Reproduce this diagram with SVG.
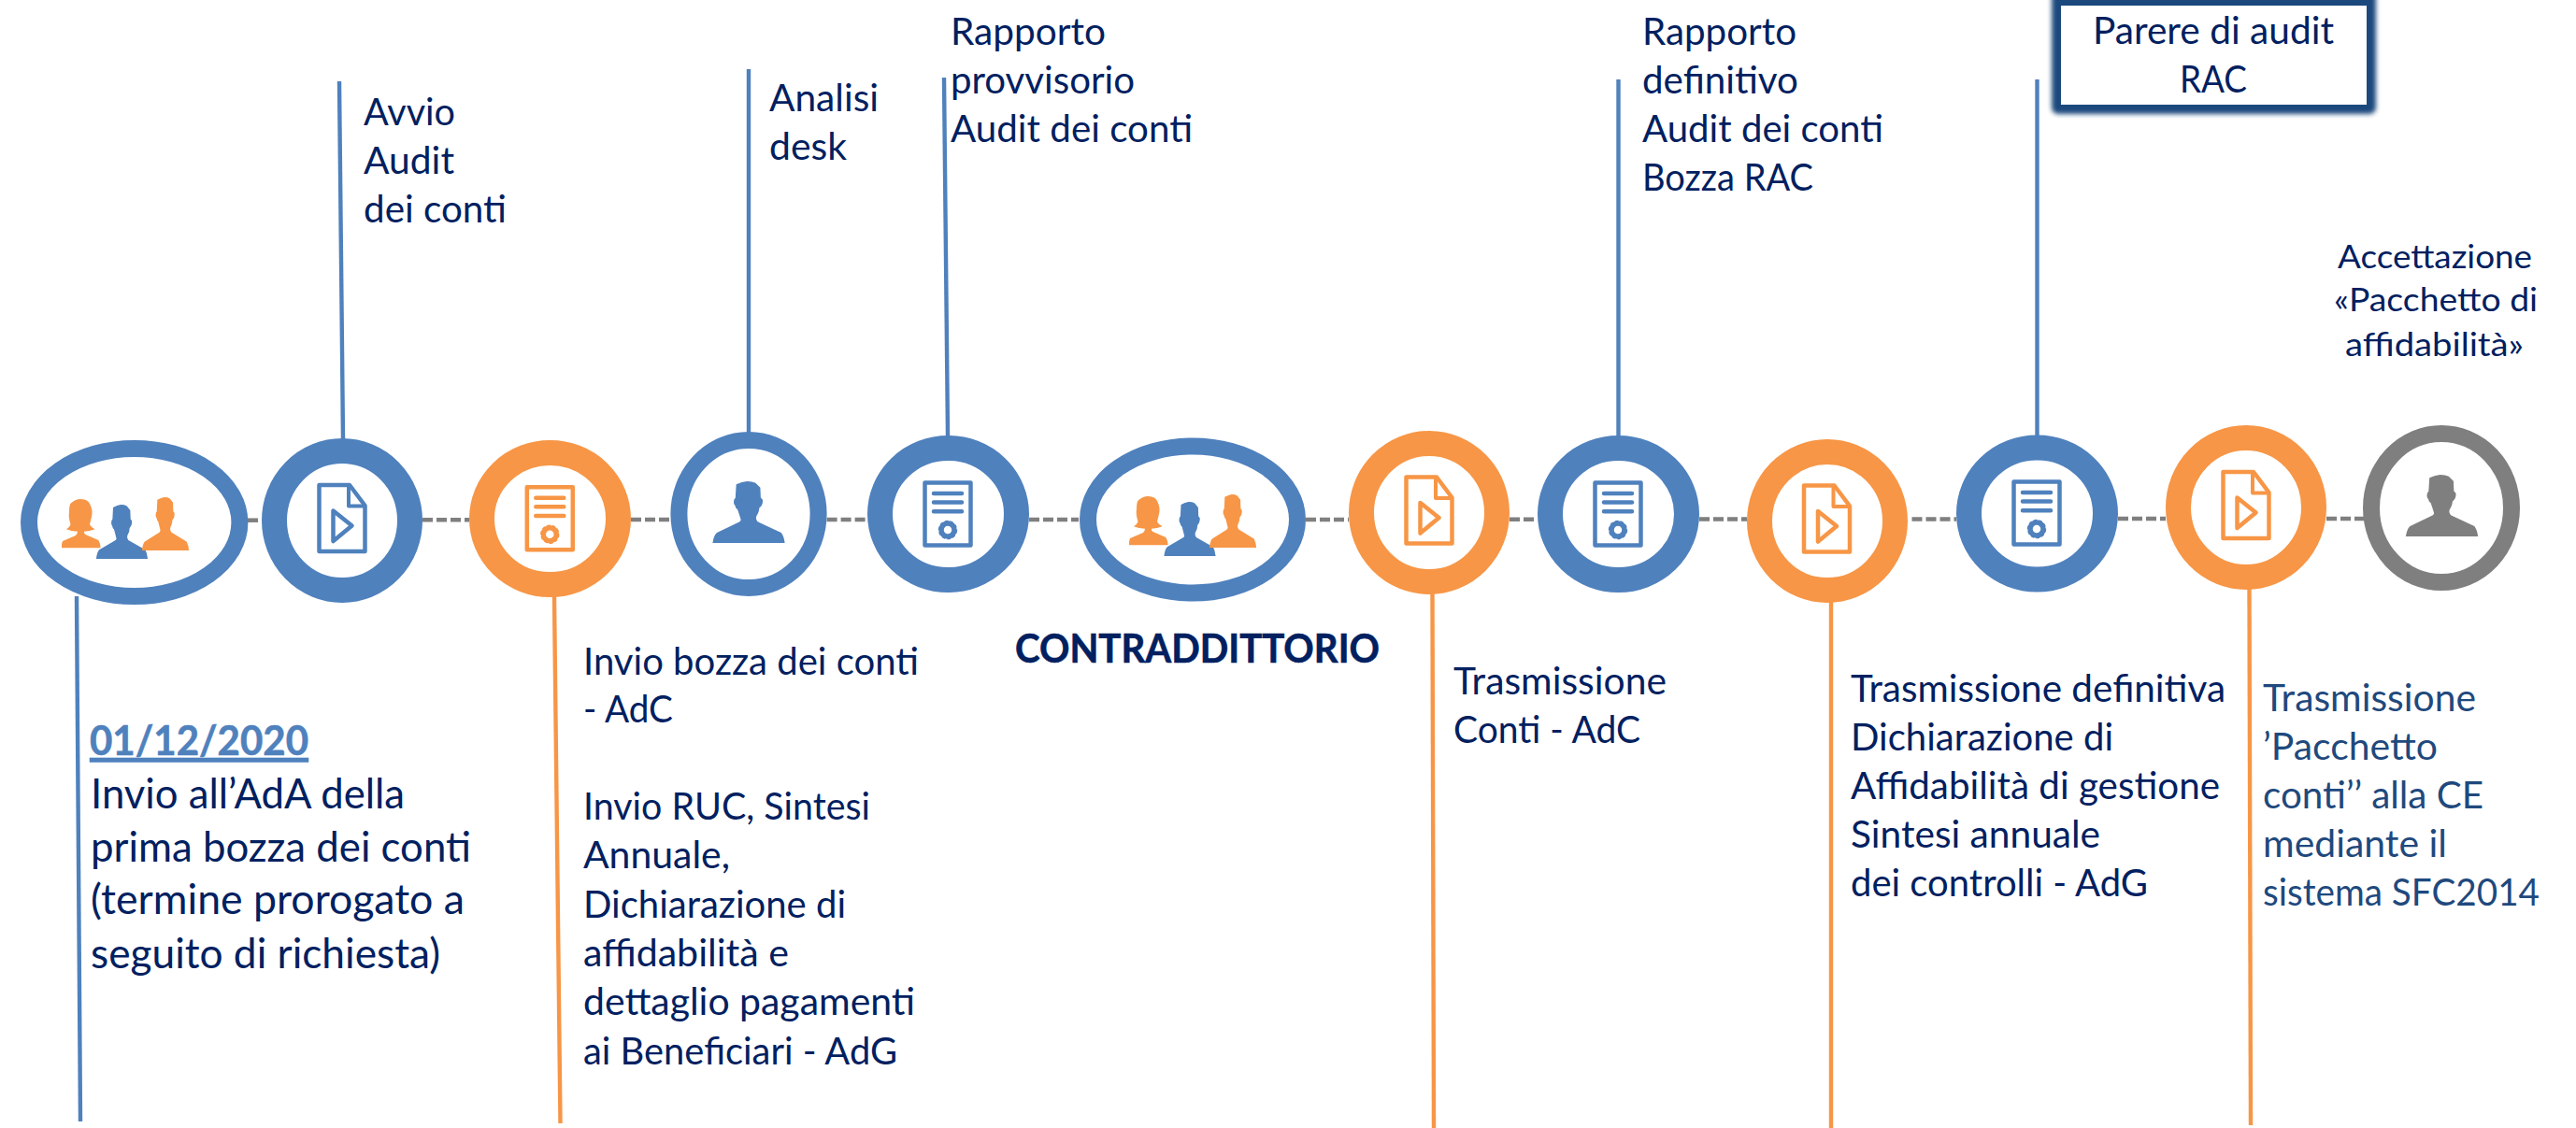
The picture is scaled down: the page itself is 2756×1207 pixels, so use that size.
<svg xmlns="http://www.w3.org/2000/svg" width="2756" height="1207" viewBox="0 0 2756 1207">
<style>
text{font-family:Lato,"Carlito","Liberation Sans",sans-serif;font-size:40px;fill:#002060;white-space:pre}
.big{font-size:43.5px}
.small{font-size:35.5px}
.bold{font-weight:700;font-size:42px;stroke:#002060;stroke-width:.6}
.date{font-weight:700;fill:#4f81bd;stroke:#4f81bd;stroke-width:.6;font-size:44px;text-decoration:underline}
.dk{fill:#1f497d}
.ring{fill:#fff}
.b{color:#4f81bd}.o{color:#f79646}.g{color:#7f7f7f}
.rb{stroke:#4f81bd}.ro{stroke:#f79646}.rg{stroke:#7f7f7f}
.dash{stroke:#7f7f7f;stroke-width:4.5;stroke-dasharray:11 4;fill:none}
.lb,.lo{stroke-width:4.4;fill:none}
.lb{stroke:#4f81bd}.lo{stroke:#f79646}
.ic{fill:none;stroke:currentColor;stroke-linejoin:round;stroke-linecap:round}
.sil{fill:currentColor}
</style>
<defs>
<filter id="glow" x="-10%" y="-20%" width="120%" height="140%"><feGaussianBlur stdDeviation="2.8"/></filter>
<g id="doc" class="ic">
<path stroke-width="4.5" d="M-24.5,-36.5H8L24.5,-14.5V34.5H-24.5Z"/>
<path stroke-width="4" d="M7,-35V-14H24"/>
<path stroke-width="4.5" d="M-9.5,-9L10.5,7L-9.5,23.5Z"/>
</g>
<g id="list" class="ic">
<rect x="-24.5" y="-33.5" width="49" height="67" stroke-width="4.5"/>
<path stroke-width="4.5" d="M-15,-22H15M-15,-12.4H15M-15,-2.7H15"/>
<circle cx="0" cy="17" r="7" stroke-width="5.5"/>
<circle cx="0" cy="17" r="9.2" stroke-width="2" stroke-dasharray="3.5 2.2" stroke-linecap="butt"/>
</g>
<path id="man" class="sil" d="M-13.3,3.3Q-7,0.5 -1.8,0Q4,0 7.3,1.7L12.4,6.7L12.9,17.7Q15.5,19 15,21.7Q15,25.5 11.5,28.3Q11,33 9.6,35Q6,39.5 9.6,43.3L34.8,55Q37.8,59 38.6,66H-38.6Q-37.5,58 -34,55L-9.6,43.3Q-7.5,41.5 -8.7,40Q-10.5,34 -12,30Q-14.2,29 -14.2,26.7Q-16.5,24 -16,21.7Q-15.8,18.5 -14.2,17.7Z"/>
<path id="woman" class="sil" d="M0,0Q9,0 11,7.3Q13.5,13 12,19L10,27.3Q11.5,30.5 15.6,32.3Q10,34.5 4,34.7Q3.5,37 5.5,38L19.3,44Q21.5,47.5 21.6,52.3H-20Q-20.5,48 -19,45L-5,39Q-3,37 -3,34.7Q-10,34.5 -15,32.3Q-11.5,30.5 -10.5,27.3Q-13,19 -12,14Q-12,5 -9.6,4Q-5,0 0,0Z"/>
</defs>
<g id="connectors">
<path class="dash" d="M265,556.7H280"/>
<path class="dash" d="M452,556.3H502"/>
<path class="dash" d="M675,556H717"/>
<path class="dash" d="M884.6,556H928"/>
<path class="dash" d="M1101,556H1154"/>
<path class="dash" d="M1397,556H1443"/>
<path class="dash" d="M1615,555.7H1645"/>
<path class="dash" d="M1818,555.5H1869"/>
<path class="dash" d="M2045.5,555.5H2093"/>
<path class="dash" d="M2266,555H2317"/>
<path class="dash" d="M2489,555H2529"/>
<path class="lb" d="M82,638L86,1200"/>
<path class="lb" d="M363,87L367,470"/>
<path class="lo" d="M593,638L599.5,1202"/>
<path class="lb" d="M801,74V463"/>
<path class="lb" d="M1010,83L1014,467"/>
<path class="lo" d="M1532.5,635L1534,1207"/>
<path class="lb" d="M1731.5,85V467"/>
<path class="lo" d="M1959,644V1207"/>
<path class="lb" d="M2179.5,85V466"/>
<path class="lo" d="M2406.5,630L2408,1204"/>
</g>
<g id="node-1">
<ellipse class="ring rb" cx="143.7" cy="559" rx="112.7" ry="79" stroke-width="18"/>
<use href="#woman" class="o" transform="translate(86,534)"/>
<use href="#man" class="b" transform="translate(130.5,540) scale(.714,.879)"/>
<use href="#man" class="o" transform="translate(177,532) scale(.65,.864)"/>
<text class="date" x="96" y="808" textLength="234" lengthAdjust="spacingAndGlyphs">01/12/2020</text>
<text class="big" x="97" y="865" textLength="336" lengthAdjust="spacingAndGlyphs">Invio all’AdA della</text>
<text class="big" x="97" y="922" textLength="407" lengthAdjust="spacingAndGlyphs">prima bozza dei conti</text>
<text class="big" x="97" y="978" textLength="400" lengthAdjust="spacingAndGlyphs">(termine prorogato a</text>
<text class="big" x="97" y="1036" textLength="374" lengthAdjust="spacingAndGlyphs">seguito di richiesta)</text>
</g>
<g id="node-2">
<ellipse class="ring rb" cx="366" cy="557" rx="72.5" ry="74.5" stroke-width="27"/>
<use href="#doc" class="b" transform="translate(366,555.5)"/>
<text x="389" y="134" textLength="98" lengthAdjust="spacingAndGlyphs">Avvio</text>
<text x="389" y="186" textLength="97" lengthAdjust="spacingAndGlyphs">Audit</text>
<text x="389" y="238" textLength="153" lengthAdjust="spacingAndGlyphs">dei conti</text>
</g>
<g id="node-3">
<ellipse class="ring ro" cx="588.5" cy="555" rx="73" ry="70.5" stroke-width="27"/>
<use href="#list" class="o" transform="translate(588.3,554.7)"/>
<text x="624" y="722" textLength="359" lengthAdjust="spacingAndGlyphs">Invio bozza dei conti</text>
<text x="624" y="773" textLength="96" lengthAdjust="spacingAndGlyphs">- AdC</text>
<text x="624" y="877" textLength="307" lengthAdjust="spacingAndGlyphs">Invio RUC, Sintesi</text>
<text x="624" y="929" textLength="157" lengthAdjust="spacingAndGlyphs">Annuale,</text>
<text x="624" y="982" textLength="281" lengthAdjust="spacingAndGlyphs">Dichiarazione di</text>
<text x="624" y="1034" textLength="220" lengthAdjust="spacingAndGlyphs">affidabilità e</text>
<text x="624" y="1086" textLength="355" lengthAdjust="spacingAndGlyphs">dettaglio pagamenti</text>
<text x="624" y="1139" textLength="336" lengthAdjust="spacingAndGlyphs">ai Beneficiari - AdG</text>
</g>
<g id="node-4">
<ellipse class="ring rb" cx="801" cy="550" rx="74.6" ry="79" stroke-width="18"/>
<use href="#man" class="b" transform="translate(801,515)"/>
<text x="823" y="119" textLength="117" lengthAdjust="spacingAndGlyphs">Analisi</text>
<text x="823" y="171" textLength="83" lengthAdjust="spacingAndGlyphs">desk</text>
</g>
<g id="node-5">
<ellipse class="ring rb" cx="1014.5" cy="550" rx="73" ry="70.5" stroke-width="27"/>
<use href="#list" class="b" transform="translate(1014,550)"/>
<text x="1017" y="48" textLength="166" lengthAdjust="spacingAndGlyphs">Rapporto</text>
<text x="1017" y="100" textLength="197" lengthAdjust="spacingAndGlyphs">provvisorio</text>
<text x="1017" y="152" textLength="259" lengthAdjust="spacingAndGlyphs">Audit dei conti</text>
</g>
<g id="node-6">
<ellipse class="ring rb" cx="1276" cy="556" rx="112" ry="78.5" stroke-width="18"/>
<use href="#woman" class="o" transform="translate(1228,531)"/>
<use href="#man" class="b" transform="translate(1273,537) scale(.714,.879)"/>
<use href="#man" class="o" transform="translate(1319,529) scale(.65,.864)"/>
<text class="bold" x="1086" y="709" textLength="390" lengthAdjust="spacingAndGlyphs">CONTRADDITTORIO</text>
</g>
<g id="node-7">
<ellipse class="ring ro" cx="1529" cy="548.5" rx="72.5" ry="74" stroke-width="27"/>
<use href="#doc" class="o" transform="translate(1529,547)"/>
<text x="1555" y="743" textLength="228" lengthAdjust="spacingAndGlyphs">Trasmissione</text>
<text x="1555" y="795" textLength="200" lengthAdjust="spacingAndGlyphs">Conti - AdC</text>
</g>
<g id="node-8">
<ellipse class="ring rb" cx="1731.5" cy="550" rx="73" ry="70.5" stroke-width="27"/>
<use href="#list" class="b" transform="translate(1731,550)"/>
<text x="1757" y="48" textLength="165" lengthAdjust="spacingAndGlyphs">Rapporto</text>
<text x="1757" y="100" textLength="167" lengthAdjust="spacingAndGlyphs">definitivo</text>
<text x="1757" y="152" textLength="258" lengthAdjust="spacingAndGlyphs">Audit dei conti</text>
<text x="1757" y="204" textLength="183" lengthAdjust="spacingAndGlyphs">Bozza RAC</text>
</g>
<g id="node-9">
<ellipse class="ring ro" cx="1955" cy="557.5" rx="72.5" ry="74" stroke-width="27"/>
<use href="#doc" class="o" transform="translate(1954.5,556)"/>
<text x="1980" y="751" textLength="401" lengthAdjust="spacingAndGlyphs">Trasmissione definitiva</text>
<text x="1980" y="803" textLength="281" lengthAdjust="spacingAndGlyphs">Dichiarazione di</text>
<text x="1980" y="855" textLength="395" lengthAdjust="spacingAndGlyphs">Affidabilità di gestione</text>
<text x="1980" y="907" textLength="267" lengthAdjust="spacingAndGlyphs">Sintesi annuale</text>
<text x="1980" y="959" textLength="318" lengthAdjust="spacingAndGlyphs">dei controlli - AdG</text>
</g>
<g id="node-10">
<ellipse class="ring rb" cx="2179.5" cy="549.5" rx="73" ry="70.5" stroke-width="27"/>
<use href="#list" class="b" transform="translate(2179,549)"/>
<rect x="2195" y="-10" width="347" height="132" rx="7" fill="#1f497d" filter="url(#glow)"/>
<rect x="2205" y="6" width="327" height="106" fill="#fff"/>
<text x="2239" y="47" textLength="258" lengthAdjust="spacingAndGlyphs">Parere di audit</text>
<text x="2332" y="99" textLength="72" lengthAdjust="spacingAndGlyphs">RAC</text>
</g>
<g id="node-11">
<ellipse class="ring ro" cx="2403" cy="543" rx="72.5" ry="74.5" stroke-width="27"/>
<use href="#doc" class="o" transform="translate(2403,541.5)"/>
<text class="dk" x="2421" y="761" textLength="228" lengthAdjust="spacingAndGlyphs">Trasmissione</text>
<text class="dk" x="2421" y="813" textLength="187" lengthAdjust="spacingAndGlyphs">’Pacchetto</text>
<text class="dk" x="2421" y="865" textLength="236" lengthAdjust="spacingAndGlyphs">conti’’ alla CE</text>
<text class="dk" x="2421" y="917" textLength="197" lengthAdjust="spacingAndGlyphs">mediante il</text>
<text class="dk" x="2421" y="969" textLength="296" lengthAdjust="spacingAndGlyphs">sistema SFC2014</text>
</g>
<g id="node-12">
<ellipse class="ring rg" cx="2612" cy="543.5" rx="75" ry="79.5" stroke-width="18"/>
<use href="#man" class="g" transform="translate(2612.5,508)"/>
<text class="small" x="2501" y="287" textLength="208" lengthAdjust="spacingAndGlyphs">Accettazione</text>
<text class="small" x="2497" y="333" textLength="218" lengthAdjust="spacingAndGlyphs">«Pacchetto di</text>
<text class="small" x="2509" y="381" textLength="191" lengthAdjust="spacingAndGlyphs">affidabilità»</text>
</g>
</svg>
